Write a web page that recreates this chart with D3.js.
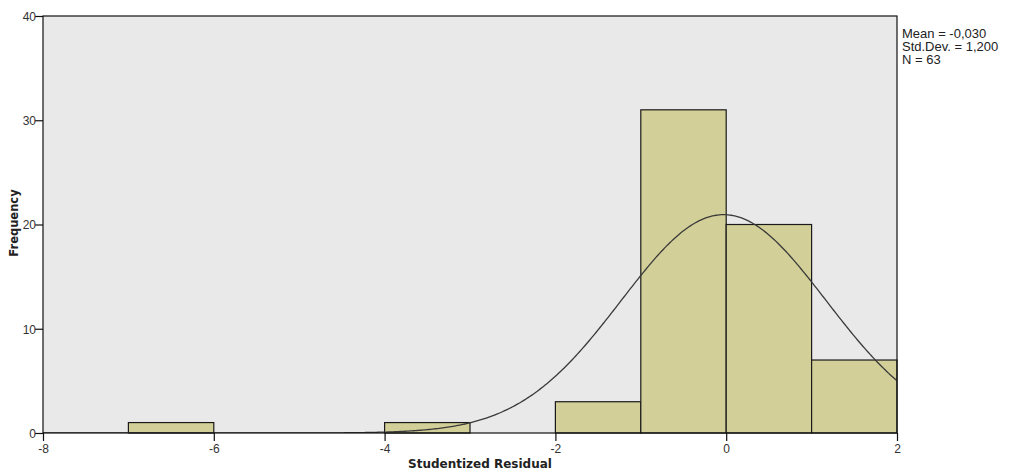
<!DOCTYPE html>
<html>
<head>
<meta charset="utf-8">
<script src="https://cdn.jsdelivr.net/npm/d3@7"></script>
<style>
	body { margin: 0; background: #fff; }
	text { font-family: "Liberation Sans", Arial, sans-serif; }
</style>
</head>
<body>
<svg id="chart" width="1011" height="472"></svg>
<script>
// histogram bins (lower edge, upper edge) and counts
var binStarts = [-8, -7, -6, -5, -4, -3, -2, -1, 0, 1];
var binEnds   = [-7, -6, -5, -4, -3, -2, -1, 0, 1, 2];
var counts    = [0, 1, 0, 0, 1, 0, 3, 31, 20, 7];
var xTicks = [-8, -6, -4, -2, 0, 2];
var yTicks = [0, 10, 20, 30, 40];
var statLines = ["Mean = -0,030", "Std.Dev. = 1,200", "N = 63"];
var mean = -0.030, sd = 1.2, n = 63, binWidth = 1;

var svg = d3.select("#chart");
var plotLeft = 43, plotRight = 897, plotTop = 16, plotBottom = 433;

var x = d3.scaleLinear().domain([-8, 2]).range([plotLeft, plotRight]);
var y = d3.scaleLinear().domain([0, 40]).range([plotBottom, plotTop]);

// plot background
svg.append("rect")
	.attr("x", plotLeft).attr("y", plotTop)
	.attr("width", plotRight - plotLeft).attr("height", plotBottom - plotTop)
	.attr("fill", "#e9e9e9");

svg.append("defs").append("clipPath").attr("id", "plotclip")
	.append("rect")
	.attr("x", plotLeft).attr("y", plotTop)
	.attr("width", plotRight - plotLeft).attr("height", plotBottom - plotTop);

// bars
var bars = binStarts.map(function(s, i) { return {x0: s, x1: binEnds[i], c: counts[i]}; })
	.filter(function(d) { return d.c > 0; });

svg.append("g").selectAll("rect")
	.data(bars)
	.enter().append("rect")
		.attr("x", function(d) { return x(d.x0); })
		.attr("y", function(d) { return y(d.c); })
		.attr("width", function(d) { return x(d.x1) - x(d.x0); })
		.attr("height", function(d) { return y(0) - y(d.c); })
		.attr("fill", "#d3cf98")
		.attr("stroke", "#1a1a1a")
		.attr("stroke-width", 1.2);

// normal curve
var pts = d3.range(-8, 2.0001, 0.02).map(function(v) {
	var z = (v - mean) / sd;
	return [v, n * binWidth * Math.exp(-0.5 * z * z) / (sd * Math.sqrt(2 * Math.PI))];
});
svg.append("path")
	.datum(pts)
	.attr("clip-path", "url(#plotclip)")
	.attr("fill", "none")
	.attr("stroke", "#3a3a3a")
	.attr("stroke-width", 1.3)
	.attr("d", d3.line()
		.x(function(d) { return x(d[0]); })
		.y(function(d) { return y(d[1]); }));

// frame
svg.append("rect")
	.attr("x", plotLeft).attr("y", plotTop)
	.attr("width", plotRight - plotLeft).attr("height", plotBottom - plotTop)
	.attr("fill", "none")
	.attr("stroke", "#111")
	.attr("stroke-width", 1.2);

// axes
var fmt = function(d) { return String(d); };
var xAxis = svg.append("g")
	.attr("transform", "translate(0," + plotBottom + ")")
	.call(d3.axisBottom(x).tickValues(xTicks).tickSize(8).tickSizeOuter(0).tickFormat(fmt));
var yAxis = svg.append("g")
	.attr("transform", "translate(" + plotLeft + ",0)")
	.call(d3.axisLeft(y).tickValues(yTicks).tickSize(8).tickSizeOuter(0).tickFormat(fmt));

[xAxis, yAxis].forEach(function(a) {
	a.select(".domain").remove();
	a.selectAll(".tick line").attr("stroke", "#111").attr("stroke-width", 1.2);
	a.selectAll(".tick text")
		.attr("fill", "#333")
		.style("font-size", "12px")
		.style("font-family", "'Liberation Sans', Arial, sans-serif");
});
xAxis.selectAll(".tick text").attr("y", 11);
yAxis.selectAll(".tick text").attr("x", -7).attr("dy", "0.36em");

// axis titles
svg.append("text")
	.attr("x", 480).attr("y", 468)
	.attr("text-anchor", "middle")
	.style("font-family", "'DejaVu Sans', sans-serif")
	.style("font-size", "12px").style("font-weight", "bold")
	.attr("fill", "#222")
	.text("Studentized Residual");

svg.append("text")
	.attr("transform", "translate(18,223) rotate(-90)")
	.attr("text-anchor", "middle")
	.style("font-family", "'DejaVu Sans', sans-serif")
	.style("font-size", "11.5px").style("font-weight", "bold")
	.attr("fill", "#222")
	.text("Frequency");

// statistics legend
svg.append("g").selectAll("text")
	.data(statLines)
	.enter().append("text")
		.attr("x", 902)
		.attr("y", function(d, i) { return 38 + i * 13; })
		.style("font-size", "13px")
		.attr("fill", "#222")
		.text(function(d) { return d; });
</script>
</body>
</html>
